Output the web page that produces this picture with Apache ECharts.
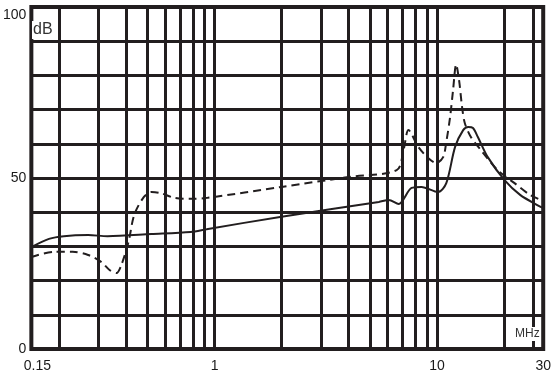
<!DOCTYPE html>
<html>
<head>
<meta charset="utf-8">
<script src="https://cdn.jsdelivr.net/npm/echarts@6/dist/echarts.min.js"></script>
<style>
  html, body { margin: 0; padding: 0; background: #fff; }
  #chart { width: 554px; height: 378px; }
</style>
</head>
<body>
<div id="chart"></div>
<script>
// solid trace
const freqSolid = [0.15, 0.18, 0.21, 0.27, 0.33, 0.52, 0.78, 0.92, 2.0, 5.47, 6.06, 6.72, 7.68, 8.5, 10.1, 11.0, 12.05, 13.1, 13.8, 14.5, 15.25, 16.9, 20.1, 23.7, 28.2, 30];
const dbSolid   = [29.8, 32.2, 33.0, 33.3, 33.0, 33.6, 34.2, 35.0, 38.7, 43.0, 43.6, 42.4, 47.1, 47.4, 45.9, 48.5, 59.1, 64.0, 64.9, 64.6, 62.0, 56.1, 49.4, 45.0, 42.1, 41.2];

// dashed trace
const freqDashed = [0.15, 0.19, 0.23, 0.27, 0.31, 0.337, 0.362, 0.381, 0.41, 0.435, 0.48, 0.52, 0.57, 0.66, 0.78, 0.93, 2.0, 4.0, 6.58, 7.07, 7.44, 8.24, 9.14, 9.92, 10.65, 10.98, 11.44, 11.8, 12.18, 12.55, 12.95, 13.32, 14.19, 15.72, 18.7, 22.3, 26.25, 30];
const dbDashed   = [26.9, 28.4, 28.4, 27.5, 25.4, 23.1, 22.2, 24.6, 31.3, 39.2, 44.4, 45.9, 45.6, 44.2, 43.9, 44.2, 47.4, 50.3, 52.3, 58.2, 64.0, 59.1, 55.8, 54.4, 56.1, 60.2, 67.8, 75.7, 83.2, 78.7, 70.8, 66.1, 62.0, 58.2, 52.3, 48.5, 45.0, 43.3];

// vertical grid frequencies (MHz)
const gridFreqs = [0.2, 0.3, 0.4, 0.5, 0.6, 0.7, 0.8, 0.9, 1, 2, 3, 4, 5, 6, 7, 8, 9, 10, 20, 27];
const yLabels = [0, 50, 100];

const ink = '#221e1f';
const chart = echarts.init(document.getElementById('chart'));

const zip = (xs, ys) => xs.map((x, i) => [x, ys[i]]);

chart.setOption({
  animation: false,
  grid: {
    left: 29, right: 8, top: 7, bottom: 29,
    show: true,
    borderColor: ink,
    borderWidth: 4
  },
  xAxis: {
    type: 'log',
    logBase: 10,
    min: 0.15,
    max: 30,
    axisLine: { show: false },
    axisTick: { show: false },
    splitLine: { show: false },
    axisLabel: {
      color: '#1a1a1a',
      fontFamily: 'Liberation Sans, Arial, sans-serif',
      fontSize: 14,
      margin: 10,
      showMinLabel: true,
      showMaxLabel: true,
      formatter: v => {
        const n = +Number(v).toPrecision(3);
        if (n === 0.15) return '{m|0.15}';
        return String(n);
      },
      rich: {
        m: { fontSize: 14, color: '#1a1a1a', padding: [0, 0, 0, 12] }
      }
    }
  },
  yAxis: {
    type: 'value',
    min: 0,
    max: 100,
    interval: 10,
    axisLine: { show: false },
    axisTick: { show: false },
    splitLine: { show: true, lineStyle: { color: ink, width: 3 } },
    axisLabel: {
      color: '#1a1a1a',
      fontFamily: 'Liberation Sans, Arial, sans-serif',
      fontSize: 14,
      margin: 5,
      formatter: v => {
        if (!yLabels.includes(v)) return '';
        if (v === 100) return '{t|100}';
        return String(v);
      },
      rich: {
        t: { fontSize: 14, color: '#1a1a1a', padding: [16, 0, 0, 0] }
      }
    }
  },
  series: [
    {
      type: 'line',
      data: [],
      silent: true,
      z: 1,
      markLine: {
        silent: true,
        symbol: 'none',
        label: { show: false },
        lineStyle: { color: ink, width: 3, type: 'solid' },
        data: gridFreqs.map(f => ({ xAxis: f }))
      }
    },
    {
      type: 'line',
      data: zip(freqSolid, dbSolid),
      showSymbol: false,
      smooth: 0.3,
      z: 3,
      lineStyle: { color: ink, width: 2 }
    },
    {
      type: 'line',
      data: zip(freqDashed, dbDashed),
      showSymbol: false,
      smooth: 0.3,
      z: 3,
      lineStyle: { color: ink, width: 2, type: [8, 5] }
    }
  ],
  graphic: [
    {
      type: 'text', left: 32, top: 21, z: 10,
      style: { text: 'dB', font: '16px "Liberation Sans", Arial, sans-serif', fill: '#333', backgroundColor: '#fff', padding: [1, 1] }
    },
    {
      type: 'text', left: 514, top: 327, z: 10,
      style: { text: 'MHz', font: '12px "Liberation Sans", Arial, sans-serif', fill: '#333', backgroundColor: '#fff', padding: [1, 1] }
    }
  ]
});
</script>
</body>
</html>
